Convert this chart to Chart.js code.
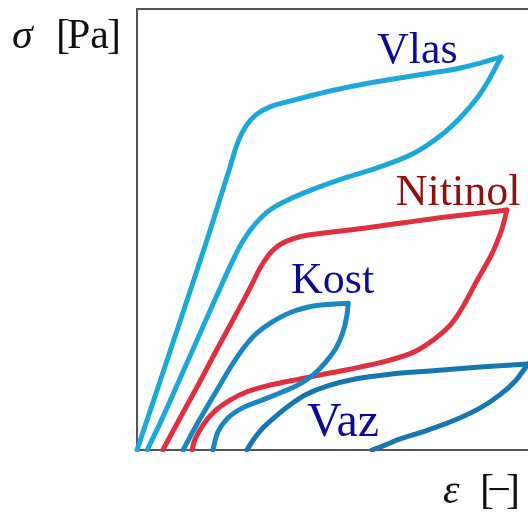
<!DOCTYPE html>
<html>
<head>
<meta charset="utf-8">
<script src="https://cdn.jsdelivr.net/npm/chart.js@4/dist/chart.umd.min.js"></script>
<style>
  html, body { margin: 0; padding: 0; background: #ffffff; overflow: hidden; }
  #wrap { width: 528px; height: 513px; }
</style>
</head>
<body>
<div id="wrap"><canvas id="c" width="528" height="513"></canvas></div>
<script>
// Stress–strain hysteresis loops (relative units, strain 0–100, stress 0–100).
// Each loop is split into its loading and unloading branch so the tip stays sharp.

const vlasLoadX   = [0, 5.9, 11.8, 17.9, 21.7, 23.8, 25.8, 27.9, 30.4, 34.0, 39.1, 49.4, 58.1, 75.2, 81.6, 88.0, 93.1];
const vlasLoadY   = [0, 15.6, 31.3, 47.6, 58.3, 64.2, 69.8, 73.5, 76.0, 77.8, 79.1, 81.4, 83.0, 85.5, 86.4, 87.8, 89.1];
const vlasUnloadX = [93.1, 90.3, 87.0, 82.6, 77.5, 70.8, 62.1, 53.2, 45.3, 39.1, 34.0, 30.2, 27.1, 24.3, 19.9, 14.8, 9.7, 5.9, 2.6];
const vlasUnloadY = [89.1, 84.4, 79.8, 75.3, 71.2, 67.3, 64.2, 61.7, 59.2, 56.9, 54.4, 51.2, 47.4, 42.6, 34.0, 23.8, 13.6, 6.1, 0];

const nitiLoadX   = [6.6, 11.3, 15.9, 20.5, 25.1, 28.9, 31.5, 33.5, 36.1, 39.6, 44.2, 58.1, 75.2, 94.6];
const nitiLoadY   = [0, 7.7, 15.2, 22.9, 30.4, 36.7, 41.3, 44.0, 46.3, 47.8, 48.8, 50.3, 52.4, 54.4];
const nitiUnloadX = [94.6, 93.4, 92.1, 90.5, 87.0, 83.6, 80.1, 75.4, 70.8, 64.7, 57.0, 49.6, 41.7, 36.6, 32.2, 28.1, 23.8, 19.9, 16.9, 14.8, 14.1];
const nitiUnloadY = [54.4, 50.3, 47.2, 44.0, 38.5, 32.9, 28.3, 24.7, 22.2, 20.4, 18.8, 17.5, 16.1, 15.2, 14.3, 13.2, 11.3, 8.8, 5.7, 2.3, 0];

const kostLoadX   = [11.8, 14.8, 18.2, 21.2, 23.8, 26.9, 30.4, 34.5, 39.6, 45.5, 50.6, 54.0];
const kostLoadY   = [0, 5.0, 10.2, 14.7, 18.6, 22.7, 26.3, 29.0, 31.3, 32.7, 33.1, 33.3];
const kostUnloadX = [54.0, 53.7, 52.7, 50.9, 48.3, 45.3, 41.7, 37.3, 32.0, 26.9, 23.3, 20.7, 19.4];
const kostUnloadY = [33.3, 30.6, 26.8, 23.1, 20.0, 17.2, 15.0, 13.2, 11.3, 9.5, 7.3, 4.1, 0];

const vazLoadX    = [28.1, 29.9, 32.2, 35.3, 39.1, 43.5, 48.6, 55.8, 64.7, 74.9, 87.7, 100];
const vazLoadY    = [0, 2.5, 5.0, 7.5, 10.2, 12.7, 14.5, 16.1, 17.2, 17.9, 18.8, 19.5];
const vazUnloadX  = [100, 96.7, 92.8, 87.7, 81.3, 73.7, 67.3, 63.4, 60.1];
const vazUnloadY  = [19.5, 15.6, 12.5, 9.5, 6.8, 4.3, 2.5, 1.1, 0];

const materialNames = ['Vlas', 'Nitinol', 'Kost', 'Vaz'];

const pts = (xs, ys) => xs.map((x, i) => ({ x: x, y: ys[i] }));

const colVlas = '#1ea7d9';
const colNiti = '#de3040';
const colKost = '#1b87c0';
const colVaz  = '#1776b0';

function branch(label, xs, ys, color) {
  return {
    label: label,
    data: pts(xs, ys),
    showLine: true,
    borderColor: color,
    backgroundColor: color,
    borderWidth: 5,
    pointRadius: 0,
    tension: 0.4,
    borderCapStyle: 'round',
    borderJoinStyle: 'round',
    clip: { left: 6, top: 6, right: 0, bottom: 2 }
  };
}

const serif = '"Liberation Serif", "DejaVu Serif", serif';

// Material labels placed in data units next to their loops, plus the axis quantities
const curveLabels = {
  id: 'curveLabels',
  afterDatasetsDraw(chart) {
    const { ctx, scales: { x, y }, chartArea } = chart;
    const items = [
      { text: materialNames[0], x: 61.4, y: 87.8, color: '#0c0c92', size: 44 },
      { text: materialNames[1], x: 66.2, y: 55.6, color: '#8c1010', size: 44 },
      { text: materialNames[2], x: 39.4, y: 35.6, color: '#0c0c92', size: 44 },
      { text: materialNames[3], x: 43.5, y: 3.2,  color: '#0c0c92', size: 48 }
    ];
    ctx.save();
    ctx.textBaseline = 'alphabetic';
    ctx.textAlign = 'left';
    items.forEach(it => {
      ctx.font = it.size + 'px ' + serif;
      ctx.fillStyle = it.color;
      ctx.fillText(it.text, x.getPixelForValue(it.x), y.getPixelForValue(it.y));
    });

    const L = chartArea.left, T = chartArea.top, B = chartArea.bottom;
    ctx.fillStyle = '#111111';

    // σ [Pa] beside the top of the stress axis
    ctx.font = 'italic 42px ' + serif;
    ctx.fillText('σ', L - 125, T + 39);
    ctx.font = '42px ' + serif;
    ctx.fillText('[', L - 81, T + 39);
    ctx.fillText('Pa', L - 70, T + 39);
    ctx.textAlign = 'right';
    ctx.fillText(']', L - 16, T + 39);

    // ε [−] under the right end of the strain axis
    ctx.textAlign = 'left';
    ctx.font = 'italic 42px ' + serif;
    ctx.fillText('ε', L + 306, B + 53);
    ctx.font = '42px ' + serif;
    ctx.fillText('[', L + 343, B + 53);
    ctx.textAlign = 'center';
    ctx.fillText('−', L + 362, B + 53);
    ctx.textAlign = 'right';
    ctx.fillText(']', L + 383, B + 53);
    ctx.restore();
  }
};

const frameAxis = (position) => ({
  type: 'linear',
  position: position,
  min: 0,
  max: 100,
  ticks: { display: false },
  grid: { display: false, drawTicks: false },
  border: { display: true, color: '#555555', width: 2 },
  afterFit(scale) {
    if (position === 'left') scale.width = 0; else scale.height = 0;
  }
});

new Chart(document.getElementById('c'), {
  type: 'scatter',
  data: {
    datasets: [
      branch('Vlas', vlasLoadX, vlasLoadY, colVlas),
      branch('Vlas', vlasUnloadX, vlasUnloadY, colVlas),
      branch('Kost', kostLoadX, kostLoadY, colKost),
      branch('Kost', kostUnloadX, kostUnloadY, colKost),
      branch('Vaz', vazLoadX, vazLoadY, colVaz),
      branch('Vaz', vazUnloadX, vazUnloadY, colVaz),
      branch('Nitinol', nitiLoadX, nitiLoadY, colNiti),
      branch('Nitinol', nitiUnloadX, nitiUnloadY, colNiti)
    ]
  },
  options: {
    responsive: false,
    animation: false,
    devicePixelRatio: 1,
    layout: { padding: { left: 137, top: 9, right: 0, bottom: 63 } },
    plugins: { legend: { display: false }, tooltip: { enabled: false } },
    scales: {
      x: frameAxis('bottom'),
      y: frameAxis('left'),
      xTop: frameAxis('top')
    }
  },
  plugins: [curveLabels]
});
</script>
</body>
</html>
